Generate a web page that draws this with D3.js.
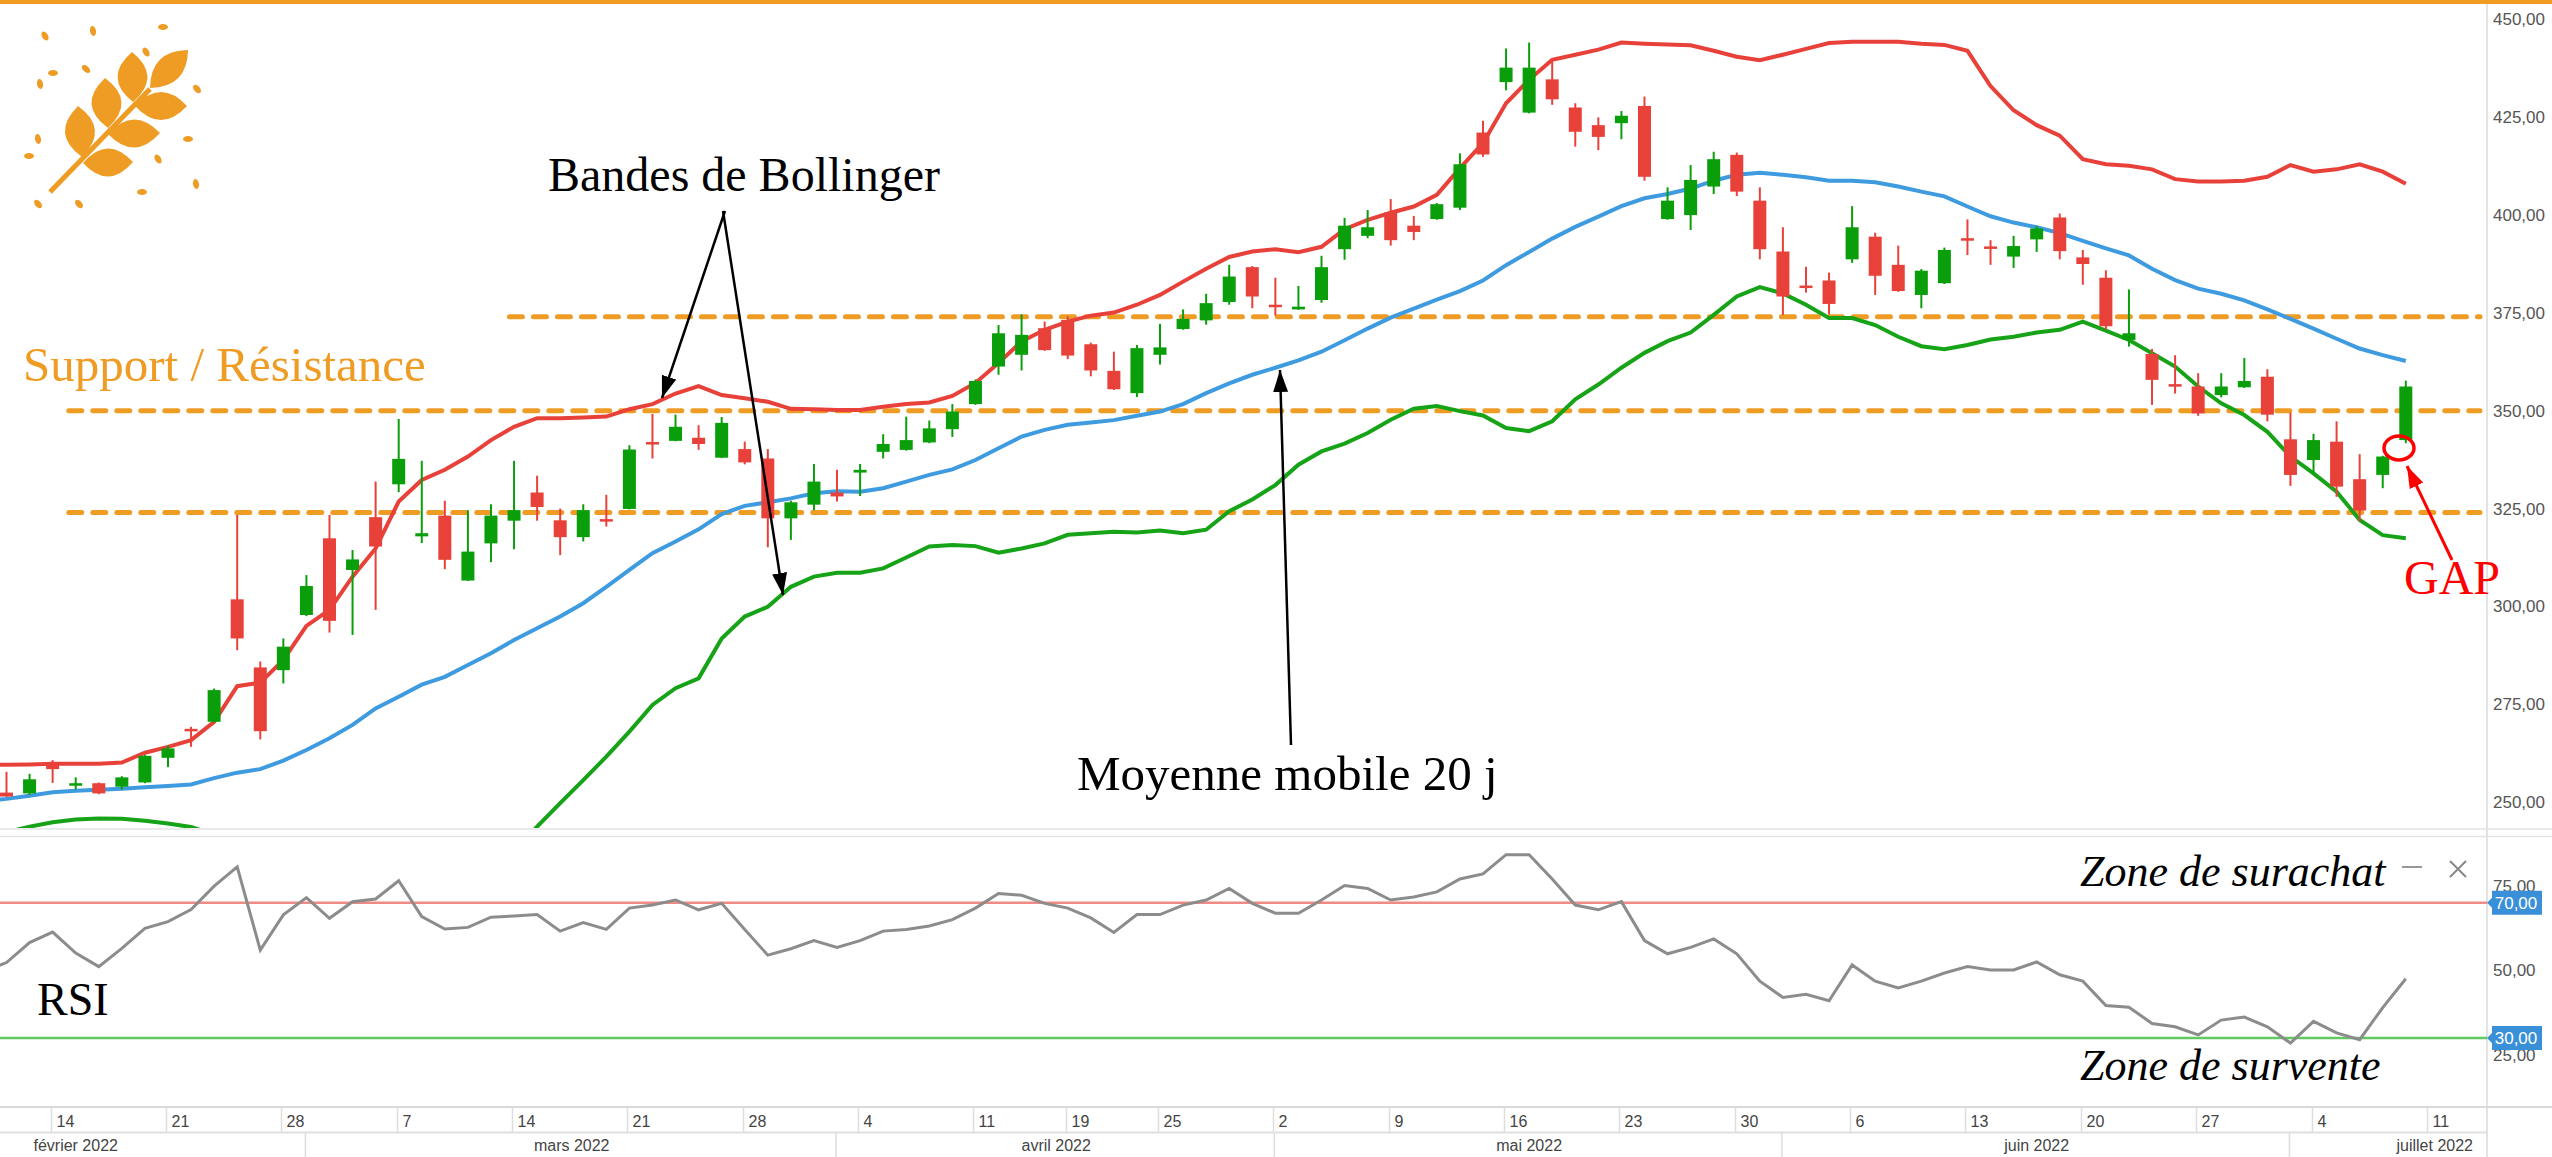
<!DOCTYPE html>
<html>
<head>
<meta charset="utf-8">
<script src="https://cdn.jsdelivr.net/npm/d3@7"></script>
<style>
  body { margin: 0; background: #fff; overflow: hidden; }
  text { font-family: "Liberation Sans", Arial, sans-serif; }
  .serif { font-family: "Liberation Serif", "Times New Roman", serif; }
</style>
</head>
<body>
<svg id="chart"></svg>
<script>
// trading days on the time axis (Feb 1 .. Jul 15 2022), Good Friday / Easter Monday closed
const febDays = [1,2,3,4,7,8,9,10,11,14,15,16,17,18,21,22,23,24,25,28];
const marDays = [1,2,3,4,7,8,9,10,11,14,15,16,17,18,21,22,23,24,25,28,29,30,31];
const aprDays = [1,4,5,6,7,8,11,12,13,14,19,20,21,22,25,26,27,28,29];
const mayDays = [2,3,4,5,6,9,10,11,12,13,16,17,18,19,20,23,24,25,26,27,30,31];
const junDays = [1,2,3,6,7,8,9,10,13,14,15,16,17,20,21,22,23,24,27,28,29,30];
const julDays = [1,4,5,6,7,8,11,12,13,14,15];
const monthNames = ["janvier","février","mars","avril","mai","juin","juillet","août"];

// daily prices, Feb 9 .. Jul 8
const opens = [253.0,252.4,252.2,259.5,254.5,254.8,253.9,255.0,261.3,268.7,270.5,
  301.8,284.4,283.7,297.8,317.4,309.3,322.8,331.2,317.9,323.2,
  306.6,316.1,321.9,329.1,322.0,317.7,322.3,324.9,342.0,342.3,
  343.1,338.0,340.2,337.8,322.5,326.0,329.1,334.2,339.5,340.0,
  341.9,345.3,351.7,361.3,364.3,371.1,373.2,367.0,360.2,354.5,
  364.3,370.9,373.1,377.8,386.7,377.1,375.9,378.3,391.3,394.7,
  400.7,397.3,399.0,401.9,421.1,434.0,426.2,434.7,427.5,423.0,
  423.5,427.9,399.0,400.0,407.3,415.4,403.7,390.7,382.0,383.3,
  388.7,394.5,387.3,379.6,382.6,394.1,392.0,389.4,393.8,399.4,
  389.2,384.0,368.1,364.5,356.8,356.2,354.0,356.0,358.7,342.7,
  337.4,342.1,332.5,333.6,342.5];
const highs = [255.0,257.7,257.2,260.7,256.3,255.0,256.6,262.0,264.4,269.2,279.0,
  323.4,285.9,291.8,308.0,323.4,314.4,331.9,347.9,337.2,327.0,
  324.6,326.1,337.2,333.4,325.0,326.1,328.5,341.2,349.2,349.0,
  346.3,348.4,342.1,340.2,327.0,336.4,334.9,336.4,344.0,348.5,
  347.5,351.7,358.0,371.9,374.6,372.8,374.1,367.4,365.1,366.8,
  372.2,375.9,379.9,387.3,387.0,384.0,381.9,389.6,399.3,401.3,
  404.1,399.8,403.1,415.8,424.1,442.6,444.1,439.2,428.6,425.0,
  426.6,430.3,407.1,412.8,416.2,416.0,407.1,396.9,386.8,385.3,
  402.3,395.5,392.2,386.2,391.7,398.9,393.6,394.7,397.2,400.4,
  391.1,385.9,381.0,365.8,364.2,359.6,359.6,363.5,360.6,349.5,
  344.1,347.3,338.9,338.5,357.7];
const lows = [251.5,251.3,251.8,254.9,253.2,252.0,253.2,254.8,258.9,264.1,270.3,
  288.8,266.0,280.3,297.5,293.3,292.7,299.1,329.2,316.2,309.5,
  306.5,311.3,314.6,321.9,313.1,316.6,320.4,324.8,337.8,342.2,
  340.0,337.9,336.3,315.1,317.0,324.6,326.8,328.2,337.8,339.8,
  341.7,343.3,351.5,359.2,360.3,365.3,363.2,358.8,355.3,353.5,
  361.8,370.7,372.0,377.1,376.2,374.3,375.8,377.6,388.6,394.1,
  392.2,393.6,398.8,401.3,414.9,431.9,426.0,428.2,417.5,416.6,
  419.4,408.8,398.8,396.2,405.4,404.9,388.7,374.5,380.2,374.6,
  387.8,379.6,380.4,376.2,382.4,389.8,387.3,386.5,390.6,388.7,
  382.2,370.7,366.4,351.5,354.4,348.7,353.4,355.8,347.3,330.8,
  334.2,328.0,321.7,330.2,341.7];
const closes = [252.6,251.4,255.8,258.4,254.8,252.2,256.3,261.8,263.7,268.3,278.6,
  291.8,268.1,289.7,305.2,296.3,312.0,315.3,337.7,318.7,311.9,
  314.0,323.2,324.6,325.4,317.7,324.6,321.9,340.1,341.4,345.9,
  341.5,346.9,336.8,322.5,326.6,331.9,328.1,334.9,341.5,342.5,
  345.5,349.8,357.6,369.8,369.4,365.5,364.1,360.3,355.5,366.0,
  366.2,373.5,377.5,384.3,379.2,376.7,376.6,386.7,397.3,396.9,
  393.6,395.7,402.8,413.0,415.5,437.7,437.7,429.6,421.3,420.0,
  425.4,409.8,403.7,409.0,414.3,406.0,391.3,379.2,381.6,377.3,
  396.9,384.5,380.6,385.8,391.1,393.7,391.4,392.1,396.6,390.8,
  387.5,371.6,369.8,357.9,356.3,349.3,356.2,357.6,349.0,333.6,
  342.5,330.6,324.5,338.3,356.2];

// Bollinger bands (20 j)
const upperBand = [259.5,259.5,259.6,259.8,259.8,259.8,260.1,262.6,264.1,265.8,270.5,
  279.6,280.5,286.3,295.0,299.1,307.6,314.8,326.8,332.3,334.9,
  338.3,342.5,345.9,348.1,348.1,348.3,348.5,350.4,351.7,354.4,
  356.3,354.0,353.2,352.3,350.5,350.4,350.2,350.2,351.0,351.7,
  352.1,353.8,357.1,362.2,367.7,370.7,372.8,374.3,375.1,377.1,
  379.6,383.0,386.3,389.3,390.7,391.3,390.5,391.9,396.4,398.8,
  400.6,402.2,405.2,412.0,418.4,428.6,434.6,439.7,441.0,442.3,
  444.1,443.8,443.6,443.4,442.0,440.5,439.6,441.0,442.5,444.0,
  444.3,444.3,444.3,443.8,443.5,442.0,433.0,426.8,423.0,420.3,
  414.3,413.0,412.6,411.7,409.2,408.6,408.6,408.8,409.8,412.8,
  411.1,411.7,413.0,411.1,408.0];
const midBand = [250.3,250.8,251.6,252.5,252.9,253.1,253.4,253.8,254.1,254.5,256.1,
  257.5,258.4,260.6,263.3,266.3,269.7,273.9,276.9,280.0,282.0,
  285.0,288.0,291.4,294.4,297.4,300.8,305.0,309.3,313.6,316.6,
  319.7,323.6,325.7,326.6,327.6,328.9,329.4,329.3,330.2,331.9,
  333.6,335.0,337.4,340.4,343.4,345.1,346.4,347.0,347.6,348.7,
  349.8,351.7,354.5,357.0,359.2,361.0,362.9,365.1,368.0,371.0,
  373.8,376.1,378.4,380.6,383.3,387.2,390.6,394.0,397.0,399.6,
  402.3,404.3,405.4,406.8,408.8,410.3,410.8,410.3,409.7,408.8,
  408.8,408.4,407.3,406.0,404.8,402.2,399.7,398.1,396.9,395.4,
  393.4,391.5,389.7,386.3,383.4,381.2,379.9,378.2,375.9,373.5,
  371.0,368.4,365.9,364.2,362.7];
const lowerBand = [241.0,242.3,243.7,244.8,245.5,245.8,245.7,245.2,244.5,243.6,241.7,
  235.4,236.3,234.9,231.6,233.5,231.8,233.0,227.0,227.7,229.1,
  231.7,233.5,236.9,243.7,249.7,255.6,261.6,268.0,274.8,279.1,
  281.6,291.8,297.4,299.9,305.0,307.6,308.6,308.6,309.7,312.5,
  315.3,315.7,315.4,313.7,314.8,316.1,318.3,318.7,319.1,318.9,
  319.4,318.7,319.6,324.3,327.3,331.0,336.2,339.6,341.6,344.3,
  347.7,350.5,351.2,349.9,348.8,345.6,344.8,347.3,352.9,356.7,
  361.0,364.8,367.8,370.0,374.5,379.2,381.6,380.0,377.1,373.7,
  373.7,371.9,368.9,366.5,365.7,366.8,368.2,368.9,370.0,370.7,
  372.8,370.5,368.1,364.7,361.3,356.2,351.9,348.9,344.6,338.3,
  334.0,329.3,322.1,318.2,317.4];

// RSI 14
const rsiValues = [49.5,52.3,58.2,61.3,55.1,51.1,56.5,62.4,64.4,68.0,74.9,
  80.6,56.0,66.4,71.5,65.4,70.3,71.1,76.5,65.9,62.2,
  62.7,65.7,66.1,66.5,61.6,64.1,62.1,68.4,69.3,70.8,
  67.9,69.8,62.1,54.5,56.4,58.8,56.8,58.8,61.6,62.1,
  63.1,65.0,68.4,72.7,72.2,69.8,68.4,65.5,61.2,66.5,
  66.5,69.3,70.8,74.2,69.8,66.9,66.9,70.8,75.1,74.2,
  70.8,71.7,73.2,77.0,78.5,84.2,84.2,77.0,69.3,67.9,
  70.3,58.8,54.9,56.8,59.3,54.9,46.8,42.0,42.9,41.0,
  51.6,46.8,44.8,46.8,49.2,51.1,50.1,50.1,52.5,48.7,
  46.8,39.6,39.1,34.3,33.3,30.9,35.3,36.2,33.3,28.5,
  34.9,31.5,29.5,39.0,47.5];

const priceTicks = [250, 275, 300, 325, 350, 375, 400, 425, 450];
const rsiTicks = [25, 50, 75];
const rsiLevels = [70, 30];
const supportLevels = [374, 350, 324];

// ---------- layout ----------
const W = 2552, H = 1157;
const plotRight = 2487;
const mainTop = 4, mainBottom = 828;
const rsiTop = 837, rsiBottom = 1107;
const orange = "#ef9c24", red = "#e8413a", green = "#0a9f0a";

const dates = [];
[febDays, marDays, aprDays, mayDays, junDays, julDays].forEach((list, m) => {
  list.forEach(d => dates.push(new Date(2022, 1 + m, d)));
});
const firstIdx = 6; // Feb 9

const x = d3.scaleLinear().domain([7, 111]).range([6.5, 2405.8]);
const y = d3.scaleLinear().domain([250, 450]).range([802, 19.5]);
const yR = d3.scaleLinear().domain([30, 70]).range([1038, 902.7]);

const svg = d3.select("#chart").attr("width", W).attr("height", H)
  .style("background", "#fff");
const defs = svg.append("defs");
defs.append("clipPath").attr("id", "clipMain").append("rect")
  .attr("x", 0).attr("y", mainTop).attr("width", plotRight).attr("height", mainBottom - mainTop);
defs.append("clipPath").attr("id", "clipRsi").append("rect")
  .attr("x", 0).attr("y", rsiTop).attr("width", plotRight).attr("height", rsiBottom - rsiTop);

function addMarker(id, color, w, h) {
  defs.append("marker").attr("id", id)
    .attr("markerUnits", "userSpaceOnUse")
    .attr("markerWidth", w).attr("markerHeight", h)
    .attr("refX", w).attr("refY", h / 2).attr("orient", "auto")
    .append("path").attr("d", `M0,0 L${w},${h / 2} L0,${h} Z`).attr("fill", color);
}
addMarker("arrowBlack", "#000", 22, 15);
addMarker("arrowRed", "#ff0000", 22, 15);

// frame lines
svg.append("rect").attr("x", 0).attr("y", 0).attr("width", W).attr("height", 4).attr("fill", orange);
svg.append("line").attr("x1", plotRight).attr("x2", plotRight).attr("y1", 4).attr("y2", H)
  .attr("stroke", "#e3e3e3").attr("stroke-width", 2);
[mainBottom + 1, rsiTop - 0.5].forEach(v => {
  svg.append("line").attr("x1", 0).attr("x2", W).attr("y1", v).attr("y2", v)
    .attr("stroke", "#e3e3e3").attr("stroke-width", 1.5);
});

// ---------- main panel ----------
const main = svg.append("g").attr("clip-path", "url(#clipMain)");

// support / resistance
const supportStart = [28.8, 9.7, 9.7];
supportLevels.forEach((lv, k) => {
  main.append("line")
    .attr("x1", x(supportStart[k])).attr("x2", 2480)
    .attr("y1", y(lv)).attr("y2", y(lv))
    .attr("stroke", orange).attr("stroke-width", 5)
    .attr("stroke-linecap", "round").attr("stroke-dasharray", "13,11");
});

const bandLine = d3.line().x((v, k) => x(k + firstIdx)).y(v => y(v));
main.append("path").attr("d", bandLine(lowerBand)).attr("fill", "none")
  .attr("stroke", "#17a317").attr("stroke-width", 4);
main.append("path").attr("d", bandLine(midBand)).attr("fill", "none")
  .attr("stroke", "#3f9be0").attr("stroke-width", 4);
main.append("path").attr("d", bandLine(upperBand)).attr("fill", "none")
  .attr("stroke", red).attr("stroke-width", 4);

const candles = closes.map((c, k) => ({ i: k + firstIdx, o: opens[k], h: highs[k], l: lows[k], c }));
const cg = main.append("g");
cg.selectAll("line").data(candles).join("line")
  .attr("x1", d => x(d.i)).attr("x2", d => x(d.i))
  .attr("y1", d => y(d.h)).attr("y2", d => y(d.l))
  .attr("stroke", d => d.c >= d.o ? green : red).attr("stroke-width", 2);
cg.selectAll("rect").data(candles).join("rect")
  .attr("x", d => x(d.i) - 6.5).attr("width", 13)
  .attr("y", d => y(Math.max(d.o, d.c)))
  .attr("height", d => Math.max(2.5, Math.abs(y(d.o) - y(d.c))))
  .attr("fill", d => d.c >= d.o ? green : red);

// price axis
const yAxis = svg.append("g").attr("transform", `translate(${plotRight},0)`)
  .call(d3.axisRight(y).tickValues(priceTicks).tickSize(0).tickPadding(6)
    .tickFormat(d => d3.format(".2f")(d).replace(".", ",")));
yAxis.select(".domain").remove();
yAxis.selectAll("text").attr("font-size", 17).attr("fill", "#555")
  .style("font-family", "'Liberation Sans', Arial, sans-serif");

// ---------- RSI panel ----------
const rsiG = svg.append("g").attr("clip-path", "url(#clipRsi)");
rsiG.append("line").attr("x1", 0).attr("x2", plotRight).attr("y1", yR(70)).attr("y2", yR(70))
  .attr("stroke", "#f08a84").attr("stroke-width", 2.5);
rsiG.append("line").attr("x1", 0).attr("x2", plotRight).attr("y1", yR(30)).attr("y2", yR(30))
  .attr("stroke", "#62c862").attr("stroke-width", 2.5);
rsiG.append("path")
  .attr("d", d3.line().x((v, k) => x(k + firstIdx)).y(v => yR(v))(rsiValues))
  .attr("fill", "none").attr("stroke", "#8c8c8c").attr("stroke-width", 3);

const rAxis = svg.append("g").attr("transform", `translate(${plotRight},0)`)
  .call(d3.axisRight(yR).tickValues(rsiTicks).tickSize(0).tickPadding(6)
    .tickFormat(d => d3.format(".2f")(d).replace(".", ",")));
rAxis.select(".domain").remove();
rAxis.selectAll("text").attr("font-size", 17).attr("fill", "#555")
  .style("font-family", "'Liberation Sans', Arial, sans-serif");

rsiLevels.forEach(lv => {
  const cy = yR(lv);
  svg.append("path")
    .attr("d", `M${plotRight},${cy} L${plotRight + 5},${cy - 5} L${plotRight + 5},${cy - 12} L2542,${cy - 12} L2542,${cy + 12} L${plotRight + 5},${cy + 12} L${plotRight + 5},${cy + 5} Z`)
    .attr("fill", "#3a8fd9");
  svg.append("text").attr("x", 2516).attr("y", cy + 6).attr("text-anchor", "middle")
    .attr("font-size", 17).attr("fill", "#fff").text(d3.format(".2f")(lv).replace(".", ","));
});

// minimise / close icons
svg.append("line").attr("x1", 2402).attr("x2", 2422).attr("y1", 867).attr("y2", 867)
  .attr("stroke", "#999").attr("stroke-width", 2);
svg.append("path").attr("d", "M2450,861 L2466,877 M2466,861 L2450,877")
  .attr("stroke", "#888").attr("stroke-width", 2);

// ---------- time axis ----------
svg.append("line").attr("x1", 0).attr("x2", W).attr("y1", rsiBottom).attr("y2", rsiBottom)
  .attr("stroke", "#d9d9d9").attr("stroke-width", 2);
svg.append("line").attr("x1", 0).attr("x2", plotRight).attr("y1", 1132.5).attr("y2", 1132.5)
  .attr("stroke", "#e0e0e0").attr("stroke-width", 2);

const weekTicks = [], monthStarts = [];
dates.forEach((d, i) => {
  if (i === 0) return;
  if (d.getDay() < dates[i - 1].getDay()) weekTicks.push(i);
  if (d.getMonth() !== dates[i - 1].getMonth()) monthStarts.push(i);
});
const axisG = svg.append("g");
weekTicks.filter(i => x(i) > 10 && x(i) < plotRight - 10).forEach(i => {
  const xx = Math.round(x(i)) - 1.5;
  axisG.append("line").attr("x1", xx).attr("x2", xx).attr("y1", rsiBottom).attr("y2", 1132)
    .attr("stroke", "#dedede").attr("stroke-width", 1.5);
  axisG.append("text").attr("x", xx + 5).attr("y", 1127).attr("font-size", 16)
    .attr("fill", "#444").text(dates[i].getDate());
});
const segBounds = [0].concat(monthStarts);
segBounds.forEach((s, k) => {
  const x0 = x(s);
  const x1 = k + 1 < segBounds.length ? x(segBounds[k + 1]) : x(dates.length + 15);
  if (k > 0) {
    axisG.append("line").attr("x1", x0 - 1).attr("x2", x0 - 1).attr("y1", 1133).attr("y2", H)
      .attr("stroke", "#dedede").attr("stroke-width", 1.5);
  }
  const t = axisG.append("text").attr("y", 1151).attr("font-size", 16).attr("fill", "#444")
    .attr("text-anchor", "middle")
    .text(monthNames[dates[s].getMonth()] + " 2022");
  const w = t.node().getComputedTextLength();
  let cx = (x0 + x1) / 2;
  cx = Math.max(cx, 20 + w / 2);
  cx = Math.min(cx, plotRight - 14 - w / 2);
  t.attr("x", cx);
});

// ---------- logo ----------
const logo = svg.append("g").attr("fill", orange);
logo.append("line").attr("x1", 50).attr("y1", 192).attr("x2", 150).attr("y2", 89)
  .attr("stroke", orange).attr("stroke-width", 5);
const leaves = [
  [150, 88, 188, 50, 13], [133, 102, 132, 52, 15], [108, 128, 105, 78, 15],
  [82, 157, 78, 106, 15], [135, 106, 187, 106, 14], [108, 134, 160, 133, 14],
  [83, 163, 133, 162, 14]
];
leaves.forEach(([bx, by, tx, ty, hw]) => {
  const mx = (bx + tx) / 2, my = (by + ty) / 2;
  const len = Math.hypot(tx - bx, ty - by);
  const nx = -(ty - by) / len, ny = (tx - bx) / len;
  logo.append("path").attr("d",
    `M${bx},${by} Q${mx + nx * hw * 2},${my + ny * hw * 2} ${tx},${ty} Q${mx - nx * hw * 2},${my - ny * hw * 2} ${bx},${by} Z`);
});
const seeds = [
  [45, 36, 60], [93, 31, 80], [163, 27, 0], [146, 52, 60], [86, 69, 40], [53, 73, 0],
  [40, 84, 80], [197, 89, 50], [38, 139, 80], [29, 156, 0], [188, 139, 0], [158, 159, 60],
  [196, 184, 80], [142, 192, 0], [38, 204, 50], [79, 204, 50]
];
seeds.forEach(([sx, sy, a]) => {
  logo.append("ellipse").attr("cx", sx).attr("cy", sy).attr("rx", 5).attr("ry", 3)
    .attr("transform", `rotate(${a},${sx},${sy})`);
});

// ---------- annotations ----------
const ann = svg.append("g");
ann.append("text").attr("class", "serif").attr("x", 23).attr("y", 381)
  .attr("font-size", 49).attr("fill", orange).text("Support / Résistance");
ann.append("text").attr("class", "serif").attr("x", 548).attr("y", 191)
  .attr("font-size", 48).attr("fill", "#000").text("Bandes de Bollinger");
ann.append("text").attr("class", "serif").attr("x", 1077).attr("y", 790)
  .attr("font-size", 49).attr("fill", "#000").text("Moyenne mobile 20 j");
ann.append("text").attr("class", "serif").attr("x", 2404).attr("y", 594)
  .attr("font-size", 48).attr("fill", "#ff0000").text("GAP");
ann.append("text").attr("class", "serif").attr("x", 37).attr("y", 1015)
  .attr("font-size", 46).attr("fill", "#000").text("RSI");
ann.append("text").attr("class", "serif").attr("x", 2080).attr("y", 886)
  .attr("font-size", 44).attr("font-style", "italic").attr("fill", "#000").text("Zone de surachat");
ann.append("text").attr("class", "serif").attr("x", 2080).attr("y", 1080)
  .attr("font-size", 44).attr("font-style", "italic").attr("fill", "#000").text("Zone de survente");

const arrows = [[725, 211, 662, 398], [723, 211, 783, 595], [1291, 745, 1280, 370]];
arrows.forEach(([x1, y1, x2, y2]) => {
  ann.append("line").attr("x1", x1).attr("y1", y1).attr("x2", x2).attr("y2", y2)
    .attr("stroke", "#000").attr("stroke-width", 2.5).attr("marker-end", "url(#arrowBlack)");
});
ann.append("ellipse").attr("cx", 2399).attr("cy", 448).attr("rx", 15).attr("ry", 12)
  .attr("fill", "none").attr("stroke", "#ff0000").attr("stroke-width", 3.5);
ann.append("line").attr("x1", 2452).attr("y1", 560).attr("x2", 2407).attr("y2", 466)
  .attr("stroke", "#ff0000").attr("stroke-width", 3).attr("marker-end", "url(#arrowRed)");
</script>
</body>
</html>
